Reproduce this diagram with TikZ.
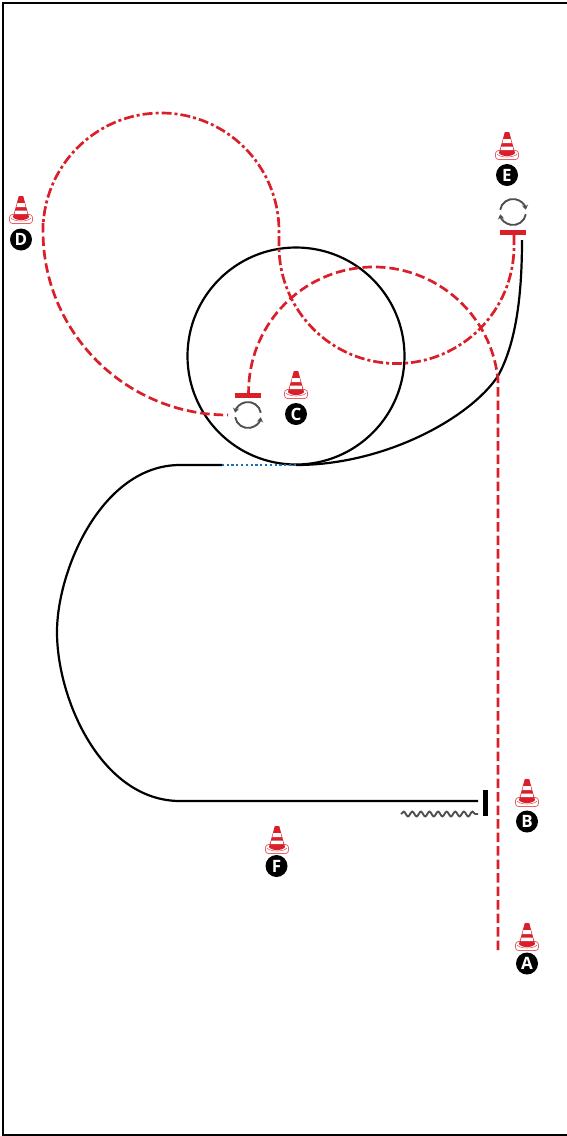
\documentclass[tikz,border=0pt]{standalone}
\usepackage{fontspec}
\setsansfont{Open Sans}
\usetikzlibrary{arrows.meta,decorations.pathmorphing}
\definecolor{conered}{HTML}{D9202A}
\definecolor{pathblue}{HTML}{1F6FB5}
\definecolor{turngrey}{HTML}{4D4F53}
\tikzset{
  run/.style={line width=2.2pt,black},
  redrun/.style={line width=2.7pt,conered,dash pattern=on 9.5pt off 4pt},
  redmix/.style={line width=2.7pt,conered,dash pattern=on 10pt off 3pt on 3pt off 3pt},
  gate/.style={line width=5pt},
  turn/.style={line width=1.9pt,turngrey,-{Stealth[length=5pt,width=6.5pt,inset=2pt]}},
  badge/.style={circle,fill=black,text=white,minimum size=22pt,inner sep=0pt,font=\sffamily\bfseries\fontsize{17}{17}\selectfont},
  pics/cone/.style={code={
    \draw[conered!70,line width=.8pt,rounded corners=3pt] (-11.5,18.5) rectangle (11.5,27.5);
    \draw[conered!70,line width=.6pt] (-10,22) .. controls (-7,26) and (7,26) .. (10,22);
    \fill[conered] (-2.2,0) -- (2.2,0) -- (8,21) .. controls (6,25) and (-6,25) .. (-8,21) -- cycle;
    \fill[white] (-3.6,7) -- (3.6,7) -- (4.6,11) -- (-4.6,11) -- cycle;
    \fill[white] (-5.5,14.5) -- (5.5,14.5) -- (6.4,18) -- (-6.4,18) -- cycle;
  }}
}
\begin{document}
\begin{tikzpicture}[x=1pt,y=-1pt]
  \useasboundingbox (0,0) rectangle (567,1136);
  % frame
  \draw[line width=2.2pt] (570,3) -- (3,3) -- (3,1135) -- (570,1135);

  % black run
  \draw[run] (296,356) circle (108.5);
  \draw[run] (522,240) .. controls (522,300) and (515,345) .. (498,376) .. controls (470,418) and (385,465) .. (296,465);
  \draw[pathblue,line width=2.2pt,dash pattern=on 2.2pt off 2.6pt] (296,465) -- (222,465);
  \draw[run] (222,465) -- (180,465) .. controls (102,465) and (57,570) .. (57,632) .. controls (57,700) and (102,801) .. (180,801) -- (478,801);
  \draw[gate] (485.5,790) -- (485.5,816);
  \draw[turngrey,line width=1.9pt,decorate,decoration={snake,amplitude=2.4pt,segment length=8.6pt}] (401,814) -- (478,814);

  % red run
  \draw[redrun] (498,950) -- (498,380) arc (-5.5:-180:125) -- (248,395);
  \draw[conered,gate] (235,395.5) -- (261,395.5);
  \draw[conered,gate] (500,232) -- (526,232);
  \draw[redmix] (514,235) -- (514,246) arc (0:180:117.5) -- (279,231) arc (0:-176:118);
  \draw[redrun] (43,223) -- (43,231) arc (180:90:185 and 184);

  % C turn
  \begin{scope}[shift={(248,415)}]
    \draw[turn] (-10:13) arc (-10:-170:13);
    \draw[turn] (170:13) arc (170:10:13);
  \end{scope}
  % E turn
  \begin{scope}[shift={(513,212)}]
    \draw[turn] (-170:13) arc (-170:-10:13);
    \draw[turn] (10:13) arc (10:170:13);
  \end{scope}

  % cones
  \pic at (527,923) {cone};
  \pic at (527,779) {cone};
  \pic at (296,371) {cone};
  \pic at (21,196) {cone};
  \pic at (507,132) {cone};
  \pic at (277,826) {cone};
  \node[badge] (labelA) at (527,963.5) {A};
  \node[badge] (labelB) at (527,821.5) {B};
  \node[badge] (labelC) at (296,414) {C};
  \node[badge] (labelD) at (21,239.5) {D};
  \node[badge] (labelE) at (507,175) {E};
  \node[badge] (labelF) at (276.5,866) {F};
\end{tikzpicture}
\end{document}
